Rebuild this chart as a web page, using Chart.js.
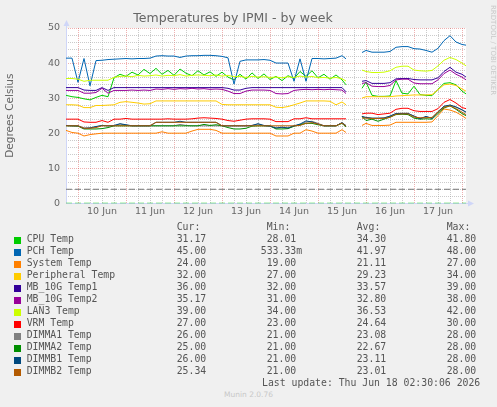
<!DOCTYPE html>
<html>
<head>
<meta charset="utf-8">
<title>Temperatures by IPMI - by week</title>
<script src="https://cdn.jsdelivr.net/npm/chart.js@4.4.0/dist/chart.umd.min.js"></script>
<style>
  body { margin: 0; background: #f0f0f0; }
  #wrap { position: relative; width: 497px; height: 407px; overflow: hidden; background: #f0f0f0; }
  #myChart { position: absolute; left: 0; top: 0; }
  .mono { position: absolute; font-family: "DejaVu Sans Mono", monospace; font-size: 9.8px; line-height: 12px; color: #555; white-space: pre; }
  .box { position: absolute; width: 7px; height: 7px; }
  #rrd { position: absolute; left: 489px; top: 5px; writing-mode: vertical-rl; font-family: "DejaVu Sans", sans-serif; font-size: 7px; line-height: 8px; color: #c8c8c8; white-space: nowrap; }
  #munin { position: absolute; left: 0; width: 497px; top: 390px; text-align: center; font-family: "DejaVu Sans", sans-serif; font-size: 7.5px; line-height: 10px; color: #c8c8c8; }
</style>
</head>
<body>
<div id="wrap">
  <canvas id="myChart" width="497" height="222"></canvas>
  <div id="rrd">RRDTOOL / TOBI OETIKER</div>
  <div id="munin">Munin 2.0.76</div>
</div>
<script>
// hours since Jun 9 18:00, the left edge of the graph
var hours = [0, 3, 6, 9, 12, 15, 18, 21, 24, 27, 30, 33, 36, 39, 42, 45, 48, 51, 54, 57,
  60, 63, 66, 69, 72, 75, 78, 81, 84, 87, 90, 93, 96, 99, 102, 105, 108, 111, 114, 117,
  120, 123, 126, 129, 132, 135, 138, 140, 144, 148, 150, 153, 156, 159, 162, 165, 168, 171,
  174, 177, 180, 183, 186, 189, 192, 195, 198, 200];
var dayLabels = ['10 Jun', '11 Jun', '12 Jun', '13 Jun', '14 Jun', '15 Jun', '16 Jun', '17 Jun'];

var names = ['CPU Temp', 'PCH Temp', 'System Temp', 'Peripheral Temp', 'MB_10G Temp1', 'MB_10G Temp2',
  'LAN3 Temp', 'VRM Temp', 'DIMMA1 Temp', 'DIMMA2 Temp', 'DIMMB1 Temp', 'DIMMB2 Temp'];
var colors = ['#00cc00', '#0066b3', '#ff8000', '#ffcc00', '#330099', '#990099',
  '#ccff00', '#ff0000', '#808080', '#008f00', '#00487d', '#b35a00'];

var cpuTemp = [30.8, 30.4, 30.2, 29.8, 29.5, 30.2, 30.8, 30.4, 35.8, 36.8,
  36.2, 37.4, 36.6, 38.2, 37.0, 38.5, 36.8, 37.9, 36.5, 38.3,
  37.1, 36.4, 37.8, 36.6, 37.5, 36.2, 37.4, 36.0, 35.2, 36.8,
  35.4, 37.2, 35.6, 36.9, 35.3, 36.2, 35.0, 36.4, 35.6, 37.6,
  36.2, 37.8, 35.8, 36.8, 35.4, 36.6, 35.2, 33.8,
  null, 32.8, 34.6, 30.8, 30.5, 30.5, 30.6, 35.0, 31.4, 31.2,
  33.4, 31.0, 30.8, 30.7, 32.5, 34.2, 34.4, 33.8, 32.0, 31.2];
var pchTemp = [41.4, 41.4, 34.5, 41.3, 33.5, 40.7, 40.8, 41.0, 41.1, 41.2,
  41.3, 41.2, 41.3, 41.3, 41.4, 42.0, 42.1, 42.0, 42.0, 41.6,
  42.0, 42.1, 42.1, 42.2, 42.2, 42.1, 41.9, 41.5, 34.0, 40.5,
  40.9, 40.9, 40.9, 41.0, 40.8, 40.0, 40.0, 40.0, 34.8, 41.2,
  34.8, 41.3, 41.3, 41.2, 41.3, 41.4, 42.1, 41.2,
  null, 43.0, 43.6, 43.1, 43.1, 43.1, 43.3, 44.5, 44.7, 44.7,
  44.1, 44.0, 43.6, 43.1, 44.2, 46.4, 47.8, 46.0, 45.3, 45.1];
var systemTemp = [20.8, 20.2, 20.0, 19.2, 19.6, 19.8, 20.0, 20.0, 20.0, 20.0,
  20.0, 20.0, 20.0, 20.0, 20.0, 20.0, 20.4, 20.0, 20.0, 20.0,
  20.0, 20.6, 21.1, 21.1, 21.1, 20.8, 20.0, 20.0, 20.0, 20.0,
  20.0, 20.0, 20.0, 20.0, 20.0, 19.2, 19.2, 19.2, 20.0, 20.0,
  21.0, 20.6, 20.0, 20.0, 20.0, 20.0, 21.0, 20.2,
  null, 22.2, 22.8, 22.2, 22.2, 22.2, 22.3, 23.1, 23.1, 23.1,
  23.1, 23.1, 23.1, 23.2, 25.0, 26.9, 26.6, 26.0, 25.0, 24.2];
var periphTemp = [28.1, 28.1, 28.0, 27.3, 27.3, 27.9, 27.9, 28.0, 28.1, 28.8,
  29.0, 28.8, 28.6, 28.3, 28.4, 29.2, 29.2, 29.2, 29.2, 29.2,
  29.2, 29.2, 29.2, 29.2, 29.2, 29.2, 28.2, 28.1, 28.1, 28.1,
  28.1, 28.1, 28.1, 28.1, 28.1, 27.4, 27.3, 27.6, 28.1, 28.6,
  29.2, 29.2, 29.2, 29.2, 29.1, 28.1, 28.9, 28.1,
  null, 30.0, 30.4, 30.4, 30.4, 30.4, 30.4, 30.6, 30.7, 30.8,
  30.9, 30.9, 30.9, 31.0, 32.4, 33.8, 34.0, 33.6, 32.6, 32.0];
var mb10gTemp1 = [33.0, 33.0, 33.0, 32.3, 32.2, 32.2, 33.0, 32.2, 33.0, 33.0,
  33.0, 33.0, 33.0, 33.0, 33.0, 33.0, 33.0, 33.0, 33.0, 33.0,
  33.0, 33.0, 33.0, 33.0, 33.0, 33.0, 33.0, 32.8, 32.3, 32.3,
  32.8, 33.0, 33.0, 33.0, 33.0, 33.0, 33.0, 33.0, 33.0, 33.0,
  33.0, 33.0, 33.0, 33.0, 33.0, 33.0, 33.0, 31.8,
  null, 34.8, 35.0, 34.2, 34.2, 34.2, 34.4, 35.5, 35.6, 35.6,
  35.3, 35.2, 35.2, 35.2, 35.8, 37.6, 38.8, 37.4, 36.8, 36.0];
var mb10gTemp2 = [32.2, 32.2, 32.2, 31.4, 31.4, 31.6, 32.8, 31.4, 32.2, 32.2,
  32.2, 32.3, 32.2, 32.3, 32.2, 32.6, 32.5, 32.7, 32.5, 32.7,
  32.6, 32.8, 32.6, 32.7, 32.5, 32.6, 32.5, 32.0, 31.3, 31.3,
  32.0, 32.3, 32.3, 32.3, 32.2, 31.3, 31.2, 31.3, 32.2, 32.4,
  32.5, 32.4, 32.5, 32.4, 32.5, 32.4, 32.3, 31.3,
  null, 34.2, 34.4, 33.4, 33.3, 33.3, 33.6, 35.2, 35.4, 35.4,
  34.3, 34.1, 34.1, 34.1, 35.2, 37.0, 38.0, 36.8, 36.0, 35.2];
var lan3Temp = [35.6, 35.6, 35.4, 34.8, 35.1, 35.1, 35.1, 35.1, 35.9, 36.2,
  36.3, 36.1, 36.5, 36.3, 36.4, 36.6, 36.3, 36.5, 36.4, 36.7,
  36.3, 36.5, 36.6, 36.5, 36.4, 36.6, 36.3, 36.5, 36.1, 36.2,
  35.9, 36.2, 36.0, 36.1, 35.9, 36.0, 35.8, 36.1, 35.9, 36.3,
  36.0, 36.2, 35.8, 35.9, 35.7, 35.9, 35.5, 34.9,
  null, 38.0, 37.6, 37.3, 37.3, 37.4, 37.8, 38.8, 39.1, 39.1,
  38.0, 37.8, 37.7, 37.9, 39.2, 40.8, 41.6, 41.0, 40.0, 39.2];
var vrmTemp = [24.0, 24.0, 24.0, 23.2, 23.1, 23.1, 23.6, 23.1, 24.0, 24.0,
  24.2, 24.0, 24.0, 24.0, 24.0, 24.0, 24.0, 24.1, 24.0, 24.0,
  24.0, 24.1, 24.3, 24.4, 24.3, 24.2, 24.0, 23.6, 23.4, 23.7,
  24.0, 24.1, 24.1, 24.1, 24.0, 23.3, 23.3, 23.3, 24.1, 24.1,
  24.4, 24.1, 24.1, 24.1, 24.1, 24.1, 24.1, 24.1,
  null, 25.5, 25.7, 25.7, 25.3, 25.5, 25.7, 26.8, 27.1, 27.1,
  26.4, 26.2, 26.2, 26.2, 27.0, 28.8, 29.6, 28.6, 27.3, 27.0];
var dimmA1Temp = [22.2, 22.1, 22.1, 21.4, 21.5, 21.8, 22.2, 22.1, 22.1, 22.6,
  22.3, 22.1, 22.1, 22.1, 22.1, 22.1, 22.1, 22.1, 22.1, 22.5,
  22.2, 22.1, 22.1, 22.1, 22.1, 22.1, 22.1, 22.1, 22.1, 22.1,
  22.1, 22.2, 22.6, 22.1, 22.0, 21.4, 21.6, 21.4, 22.0, 22.4,
  23.2, 23.4, 22.8, 22.1, 22.1, 22.1, 23.0, 22.2,
  null, 24.6, 24.4, 24.2, 24.2, 24.4, 24.8, 25.6, 25.7, 25.7,
  24.8, 24.2, 24.6, 24.4, 26.2, 27.6, 28.0, 27.4, 26.6, 26.0];
var dimmA2Temp = [22.1, 22.1, 22.0, 21.2, 21.2, 21.2, 21.3, 21.6, 22.1, 22.1,
  22.1, 22.1, 22.1, 22.1, 22.1, 22.1, 22.1, 22.1, 22.1, 22.1,
  22.1, 22.1, 22.1, 22.5, 22.2, 22.4, 22.1, 21.6, 21.2, 21.2,
  21.4, 22.0, 22.1, 22.1, 22.1, 21.2, 21.2, 21.3, 22.0, 22.4,
  22.8, 22.8, 22.4, 22.1, 22.1, 22.1, 22.8, 21.8,
  null, 24.8, 23.6, 24.0, 23.4, 24.0, 24.6, 25.3, 25.4, 25.3,
  24.3, 24.0, 24.1, 24.0, 25.6, 27.2, 27.8, 26.8, 25.6, 25.0];
var dimmB1Temp = [22.2, 22.1, 22.1, 21.4, 21.5, 21.9, 22.2, 22.1, 22.2, 22.7,
  22.4, 22.1, 22.1, 22.1, 22.1, 23.1, 23.1, 23.1, 23.1, 23.4,
  23.1, 23.1, 23.1, 23.1, 23.1, 23.1, 22.1, 22.1, 22.1, 22.1,
  22.1, 22.2, 22.7, 22.2, 22.0, 21.5, 21.7, 21.5, 22.1, 22.6,
  23.5, 23.2, 22.6, 22.1, 22.1, 22.1, 23.0, 22.1,
  null, 24.8, 24.5, 24.3, 24.3, 24.3, 24.9, 25.6, 25.6, 25.6,
  24.9, 24.1, 24.8, 24.2, 26.0, 27.7, 28.0, 27.5, 26.7, 26.0];
var dimmB2Temp = [22.1, 22.1, 22.1, 21.4, 21.4, 21.6, 22.1, 22.1, 22.1, 22.1,
  22.1, 22.1, 22.1, 22.1, 22.1, 23.1, 23.1, 23.1, 23.1, 23.1,
  23.1, 23.1, 23.1, 23.1, 23.1, 23.1, 22.1, 22.1, 22.1, 22.1,
  22.1, 22.1, 22.1, 22.1, 22.1, 22.1, 22.1, 22.1, 22.1, 22.2,
  22.8, 23.0, 22.6, 22.1, 22.1, 22.1, 22.9, 22.0,
  null, 24.3, 24.3, 24.2, 24.2, 24.2, 24.5, 25.4, 25.5, 25.5,
  24.6, 24.4, 24.4, 24.5, 26.0, 27.4, 27.8, 27.0, 26.0, 25.3];

// dashed limit lines
var limitValues = [4, 0];
var limitColors = ['#777777', '#00cc00'];

// legend table
var curVals = ['31.17', '45.00', '24.00', '32.00', '36.00', '35.17', '39.00', '27.00', '26.00', '25.00', '26.00', '25.34'];
var minVals = ['28.01', '533.33m', '19.00', '27.00', '32.00', '31.00', '34.00', '23.00', '21.00', '21.00', '21.00', '21.00'];
var avgVals = ['34.30', '41.97', '21.11', '29.23', '33.57', '32.80', '36.53', '24.64', '23.08', '22.67', '23.11', '23.01'];
var maxVals = ['41.80', '48.00', '27.00', '34.00', '39.00', '38.00', '42.00', '30.00', '28.00', '28.00', '28.00', '28.00'];
var lastUpdate = 'Last update: Thu Jun 18 02:30:06 2026';

var series = [cpuTemp, pchTemp, systemTemp, periphTemp, mb10gTemp1, mb10gTemp2,
  lan3Temp, vrmTemp, dimmA1Temp, dimmA2Temp, dimmB1Temp, dimmB2Temp];

var majorGrid = 'rgba(220,80,80,0.45)';
var minorGrid = 'rgba(160,160,160,0.55)';
var axisColor = '#cfd6f8';

var datasets = [];
series.forEach(function(vals, i) {
  datasets.push({
    label: names[i],
    data: hours.map(function(h, j) { return {x: h, y: vals[j]}; }),
    borderColor: colors[i],
    borderWidth: 1,
    pointRadius: 0,
    tension: 0,
    spanGaps: false,
    order: series.length - i + 2
  });
});
limitValues.forEach(function(v, i) {
  datasets.push({
    label: 'limit' + i,
    data: [{x: hours[0], y: v}, {x: hours[hours.length - 1], y: v}],
    borderColor: limitColors[i],
    borderWidth: 1,
    borderDash: [6, 3],
    pointRadius: 0,
    order: 0
  });
});

var munBack = {
  id: 'munBack',
  beforeDraw: function(chart) {
    var a = chart.chartArea, c = chart.ctx;
    c.save();
    c.fillStyle = '#ffffff';
    c.fillRect(a.left, a.top, a.right - a.left, a.bottom - a.top);
    c.restore();
  },
  beforeDatasetsDraw: function(chart) {
    var a = chart.chartArea, c = chart.ctx;
    var x0 = a.left + 0.5, y0 = Math.round(a.bottom) + 0.5;
    c.save();
    c.strokeStyle = axisColor;
    c.fillStyle = axisColor;
    c.lineWidth = 1;
    c.beginPath();
    c.moveTo(x0, y0);
    c.lineTo(x0, a.top - 4);
    c.moveTo(x0, y0);
    c.lineTo(a.right + 3, y0);
    c.stroke();
    c.beginPath();
    c.moveTo(x0 - 3, a.top - 2);
    c.lineTo(x0 + 3, a.top - 2);
    c.lineTo(x0, a.top - 8);
    c.closePath();
    c.fill();
    c.beginPath();
    c.moveTo(a.right + 2, y0 - 3);
    c.lineTo(a.right + 2, y0 + 3);
    c.lineTo(a.right + 8, y0);
    c.closePath();
    c.fill();
    c.restore();
  }
};

var ctx = document.getElementById('myChart');
var myChart = new Chart(ctx, {
  type: 'line',
  data: { datasets: datasets },
  plugins: [munBack],
  options: {
    responsive: false,
    animation: false,
    events: [],
    layout: { padding: { left: 0, right: 31, top: 0, bottom: 0 } },
    plugins: {
      legend: { display: false },
      tooltip: { enabled: false },
      title: {
        display: true,
        text: 'Temperatures by IPMI - by week',
        color: '#666',
        font: { family: 'DejaVu Sans', size: 12.5, weight: 'normal' },
        padding: { top: 11.5, bottom: 1.5 }
      }
    },
    scales: {
      x: {
        type: 'linear',
        min: 0,
        max: 200,
        afterFit: function(s) { s.height = 18.7; },
        ticks: {
          stepSize: 6,
          includeBounds: false,
          autoSkip: false,
          maxRotation: 0,
          padding: 3,
          color: '#666',
          font: { family: 'DejaVu Sans', size: 9.5 },
          callback: function(v) { return (v - 18) % 24 === 0 ? dayLabels[(v - 18) / 24] : ''; }
        },
        grid: {
          drawTicks: false,
          lineWidth: 1,
          color: function(c) { return (c.tick && (c.tick.value - 6) % 24 === 0) ? majorGrid : minorGrid; }
        },
        border: { display: false, dash: [1, 1] }
      },
      y: {
        min: 0,
        max: 50,
        afterFit: function(s) { s.width = 66; },
        title: {
          display: true,
          text: 'Degrees Celsius',
          color: '#666',
          font: { family: 'DejaVu Sans', size: 10.5 },
          padding: { top: 4, bottom: 0 }
        },
        ticks: {
          stepSize: 2,
          autoSkip: false,
          padding: 6,
          color: '#666',
          font: { family: 'DejaVu Sans', size: 9.5 },
          callback: function(v) { return v % 10 === 0 ? v : ''; }
        },
        grid: {
          drawTicks: false,
          lineWidth: 1,
          color: function(c) { return (c.tick && c.tick.value % 10 === 0) ? majorGrid : minorGrid; }
        },
        border: { display: false, dash: [1, 1] }
      }
    }
  }
});

// legend table under the graph
var wrap = document.getElementById('wrap');
var colLefts = [176.7, 266.7, 356.7, 446.7];
var charW = 5.9;
function addMono(txt, left, top) {
  var d = document.createElement('div');
  d.className = 'mono';
  d.style.left = left + 'px';
  d.style.top = top + 'px';
  d.textContent = txt;
  wrap.appendChild(d);
}
['Cur:', 'Min:', 'Avg:', 'Max:'].forEach(function(h, k) { addMono(h, colLefts[k], 220.6); });
names.forEach(function(n, i) {
  var top = 233.3 + 12 * i;
  var b = document.createElement('div');
  b.className = 'box';
  b.style.left = '14px';
  b.style.top = (top + 3.7) + 'px';
  b.style.background = colors[i];
  wrap.appendChild(b);
  addMono(n, 26.7, top);
  [curVals[i], minVals[i], avgVals[i], maxVals[i]].forEach(function(v, k) {
    var txt = /[a-z]$/.test(v) ? v : ' ' + v + ' ';
    addMono(txt, colLefts[k] - charW, top);
  });
});
addMono(lastUpdate, 262, 377.3);
</script>
</body>
</html>
